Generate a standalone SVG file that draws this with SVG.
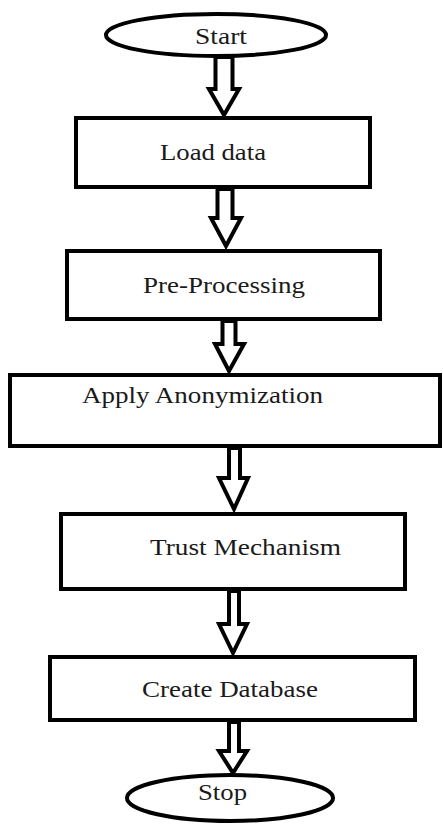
<svg xmlns="http://www.w3.org/2000/svg" width="443" height="825" viewBox="0 0 443 825">
<style>
.box{fill:#fff;stroke:#000;stroke-width:4}
.term{fill:#fff;stroke:#000;stroke-width:4}
text{font-family:'Liberation Serif',Times,serif;font-size:23px;fill:#1a1a1a}
.arr{fill:#fff;stroke:#000;stroke-width:4;stroke-linejoin:miter;stroke-miterlimit:10}
</style>
<rect width="443" height="825" fill="#fff"/>
<g id="start">
<ellipse class="term" cx="216" cy="35" rx="110" ry="21"/>
<text x="195" y="44" textLength="52" lengthAdjust="spacingAndGlyphs">Start</text>
</g>
<g id="load-data">
<rect class="box" x="76" y="118" width="294" height="69"/>
<text x="160" y="160" textLength="106" lengthAdjust="spacingAndGlyphs">Load data</text>
</g>
<g id="pre-processing">
<rect class="box" x="67" y="251" width="313" height="68"/>
<text x="143" y="293" textLength="162" lengthAdjust="spacingAndGlyphs">Pre-Processing</text>
</g>
<g id="apply-anonymization">
<rect class="box" x="10" y="375" width="430" height="71"/>
<text x="82" y="403" textLength="241" lengthAdjust="spacingAndGlyphs">Apply Anonymization</text>
</g>
<g id="trust-mechanism">
<rect class="box" x="61" y="514" width="344" height="75"/>
<text x="150" y="555" textLength="191" lengthAdjust="spacingAndGlyphs">Trust Mechanism</text>
</g>
<g id="create-database">
<rect class="box" x="50" y="657" width="365" height="63"/>
<text x="142" y="697" textLength="176" lengthAdjust="spacingAndGlyphs">Create Database</text>
</g>
<g id="stop">
<ellipse class="term" cx="230" cy="798" rx="103" ry="23"/>
<text x="198" y="800" textLength="49" lengthAdjust="spacingAndGlyphs">Stop</text>
</g>
<g id="connectors">
<polygon class="arr" points="215.5,57 215.5,89 209,89 224,115 239,89 232.5,89 232.5,57"/>
<polygon class="arr" points="217.5,189 217.5,218 211,218 226,246 241,218 232.5,218 232.5,189"/>
<polygon class="arr" points="222.5,321 222.5,344 215,344 229,371 244,344 235.5,344 235.5,321"/>
<polygon class="arr" points="229,448 229,478 219,478 234,509 248,478 240,478 240,448"/>
<polygon class="arr" points="229,591 229,624 219,624 233,653 247,624 239,624 239,591"/>
<polygon class="arr" points="229,722 229,751 219,751 233,773 247,751 239,751 239,722"/>
</g>
</svg>
